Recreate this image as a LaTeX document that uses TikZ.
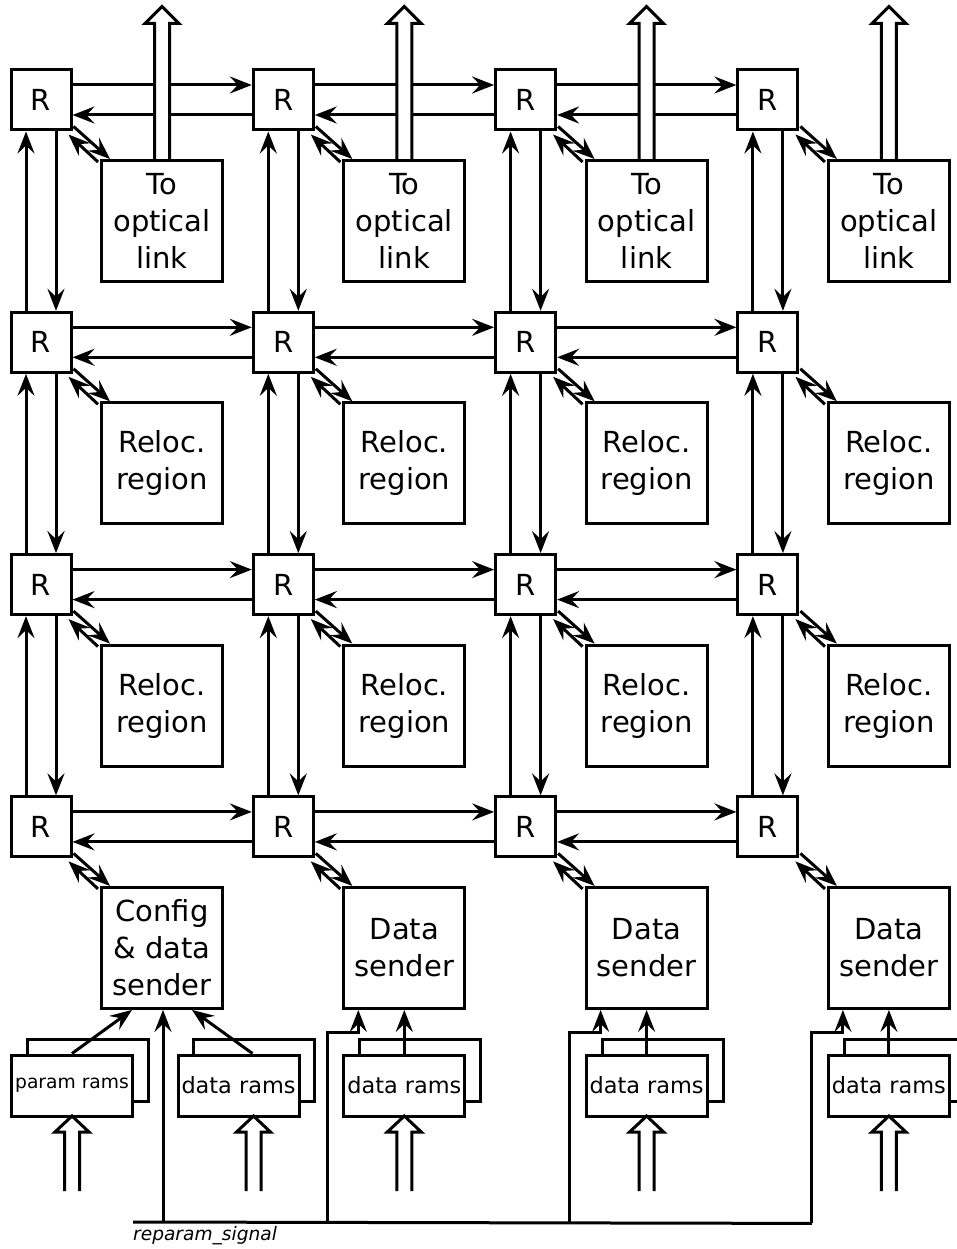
\documentclass[tikz,border=0pt]{standalone}
\usepackage{fontspec}
\setmainfont{DejaVu Sans}
\usetikzlibrary{arrows.meta,calc}
\begin{document}
\begin{tikzpicture}[x=1pt,y=-1pt,
  router/.style={draw, line width=3pt, minimum width=60pt, minimum height=60pt, inner sep=0pt, font=\fontsize{29}{36}\selectfont},
  bigbox/.style={draw, line width=3pt, minimum width=121pt, minimum height=121pt, inner sep=0pt, align=center, font=\fontsize{29}{37}\selectfont},
  ramfront/.style={draw, fill=white, line width=3pt, minimum width=121pt, minimum height=61pt, inner sep=0pt, font=\fontsize{22.4}{26}\selectfont},
  ramback/.style={draw, line width=3pt, minimum width=121pt, minimum height=62pt, inner sep=0pt},
  link/.style={line width=3pt, -{Stealth[length=22pt,width=17pt,inset=8pt]}},
  wire/.style={line width=3pt},
  hollow/.style={line width=3pt, fill=white, line join=miter},
]
\useasboundingbox (0,0) rectangle (956,1249);

% routers
\foreach \i in {0,...,3}
  \foreach \j in {0,...,3}
    \node[router] (r\i\j) at ({41+242.3*\i},{100+242.3*\j}) {R};

% attached boxes
\foreach \i in {0,...,3}{
  \node[bigbox] (b\i0) at ({162+242.3*\i},{221}) {To\\optical\\link};
  \node[bigbox] (b\i1) at ({162+242.3*\i},{221+242.3}) {Reloc.\\region};
  \node[bigbox] (b\i2) at ({162+242.3*\i},{221+2*242.3}) {Reloc.\\region};
}
\node[bigbox] (b03) at (162,{221+3*242.3}) {Config\\\& data\\sender};
\foreach \i in {1,2,3}
  \node[bigbox] (b\i3) at ({162+242.3*\i},{221+3*242.3}) {Data\\sender};

% horizontal router links
\foreach \i/\k in {0/1,1/2,2/3}
  \foreach \j in {0,...,3}{
    \draw[link] ($(r\i\j.east)+(0,-15)$) -- ($(r\k\j.west)+(0,-15)$);
    \draw[link] ($(r\k\j.west)+(0,15)$) -- ($(r\i\j.east)+(0,15)$);
  }

% vertical router links
\foreach \j/\k in {0/1,1/2,2/3}
  \foreach \i in {0,...,3}{
    \draw[link] ($(r\i\k.north)+(-15,0)$) -- ($(r\i\j.south)+(-15,0)$);
    \draw[link] ($(r\i\j.south)+(15,0)$) -- ($(r\i\k.north)+(15,0)$);
  }

% diagonal router <-> box links
\foreach \i in {0,...,3}
  \foreach \j in {0,...,3}{
    \draw[link] ($(b\i\j.north west)+(-2,3)$) -- ($(r\i\j.south east)+(-4,3)$);
    \draw[link] ($(r\i\j.south east)+(1,-5)$) -- ($(b\i\j.north west)+(10,0)$);
  }

% hollow arrows to optical links
\foreach \i in {0,...,3}
  \draw[hollow] ($(b\i0.north)+(-7.5,0)$) -- ++(0,-135.5) -- ++(-9.5,0) -- ++(17,-17)
     -- ++(17,17) -- ++(-9.5,0) -- ++(0,135.5);

% rams, column 0
\node[ramback] (prb) at (87.5,1070) {};
\node[ramfront, font=\fontsize{18.7}{22}\selectfont] (pr) at (72,1085.5) {param rams};
\node[ramback] (dr0b) at (254,1070) {};
\node[ramfront] (dr0) at (238.5,1085.5) {data rams};
\draw[link] (pr.north) -- ($(b03.south)+(-30,0)$);
\draw[link] ($(dr0.north)+(14,0)$) -- ($(b03.south)+(30,0)$);

% rams, columns 1-3
\foreach \i in {1,2,3}{
  \node[ramback] (dr\i b) at ({162+242.3*\i+16},1070) {};
  \node[ramfront] (dr\i) at ({162+242.3*\i},1085.5) {data rams};
  \draw[link] (dr\i.north) -- (b\i3.south);
}

% hollow input arrows under the rams
\foreach \x in {72,253.5,404.3,646.6,888.9}
  \draw[hollow] (\x-7.5,1191) -- ++(0,-59) -- ++(-9.5,0) -- ++(17,-16)
     -- ++(17,16) -- ++(-9.5,0) -- ++(0,59);

% reparam signal
\coordinate (rsA) at (133,1222);
\coordinate (rsB) at ($(b33.south west)+(-15,213.5)$);
\draw[wire] (rsA) -- (rsB);
\draw[link] ($(b03.south)+(1,213.5)$) -- ($(b03.south)+(1,0)$);
\foreach \i in {1,2,3}
  \draw[link] ($(b\i3.south west)+(-15,213.5)$) |- ($(b\i3.south west)+(16,23)$) -- ($(b\i3.south west)+(16,0)$);
\node[anchor=north west, inner sep=0pt, font=\itshape\fontsize{18.6}{22}\selectfont] (rslabel) at (133,1226) {reparam\_signal};

\end{tikzpicture}
\end{document}
